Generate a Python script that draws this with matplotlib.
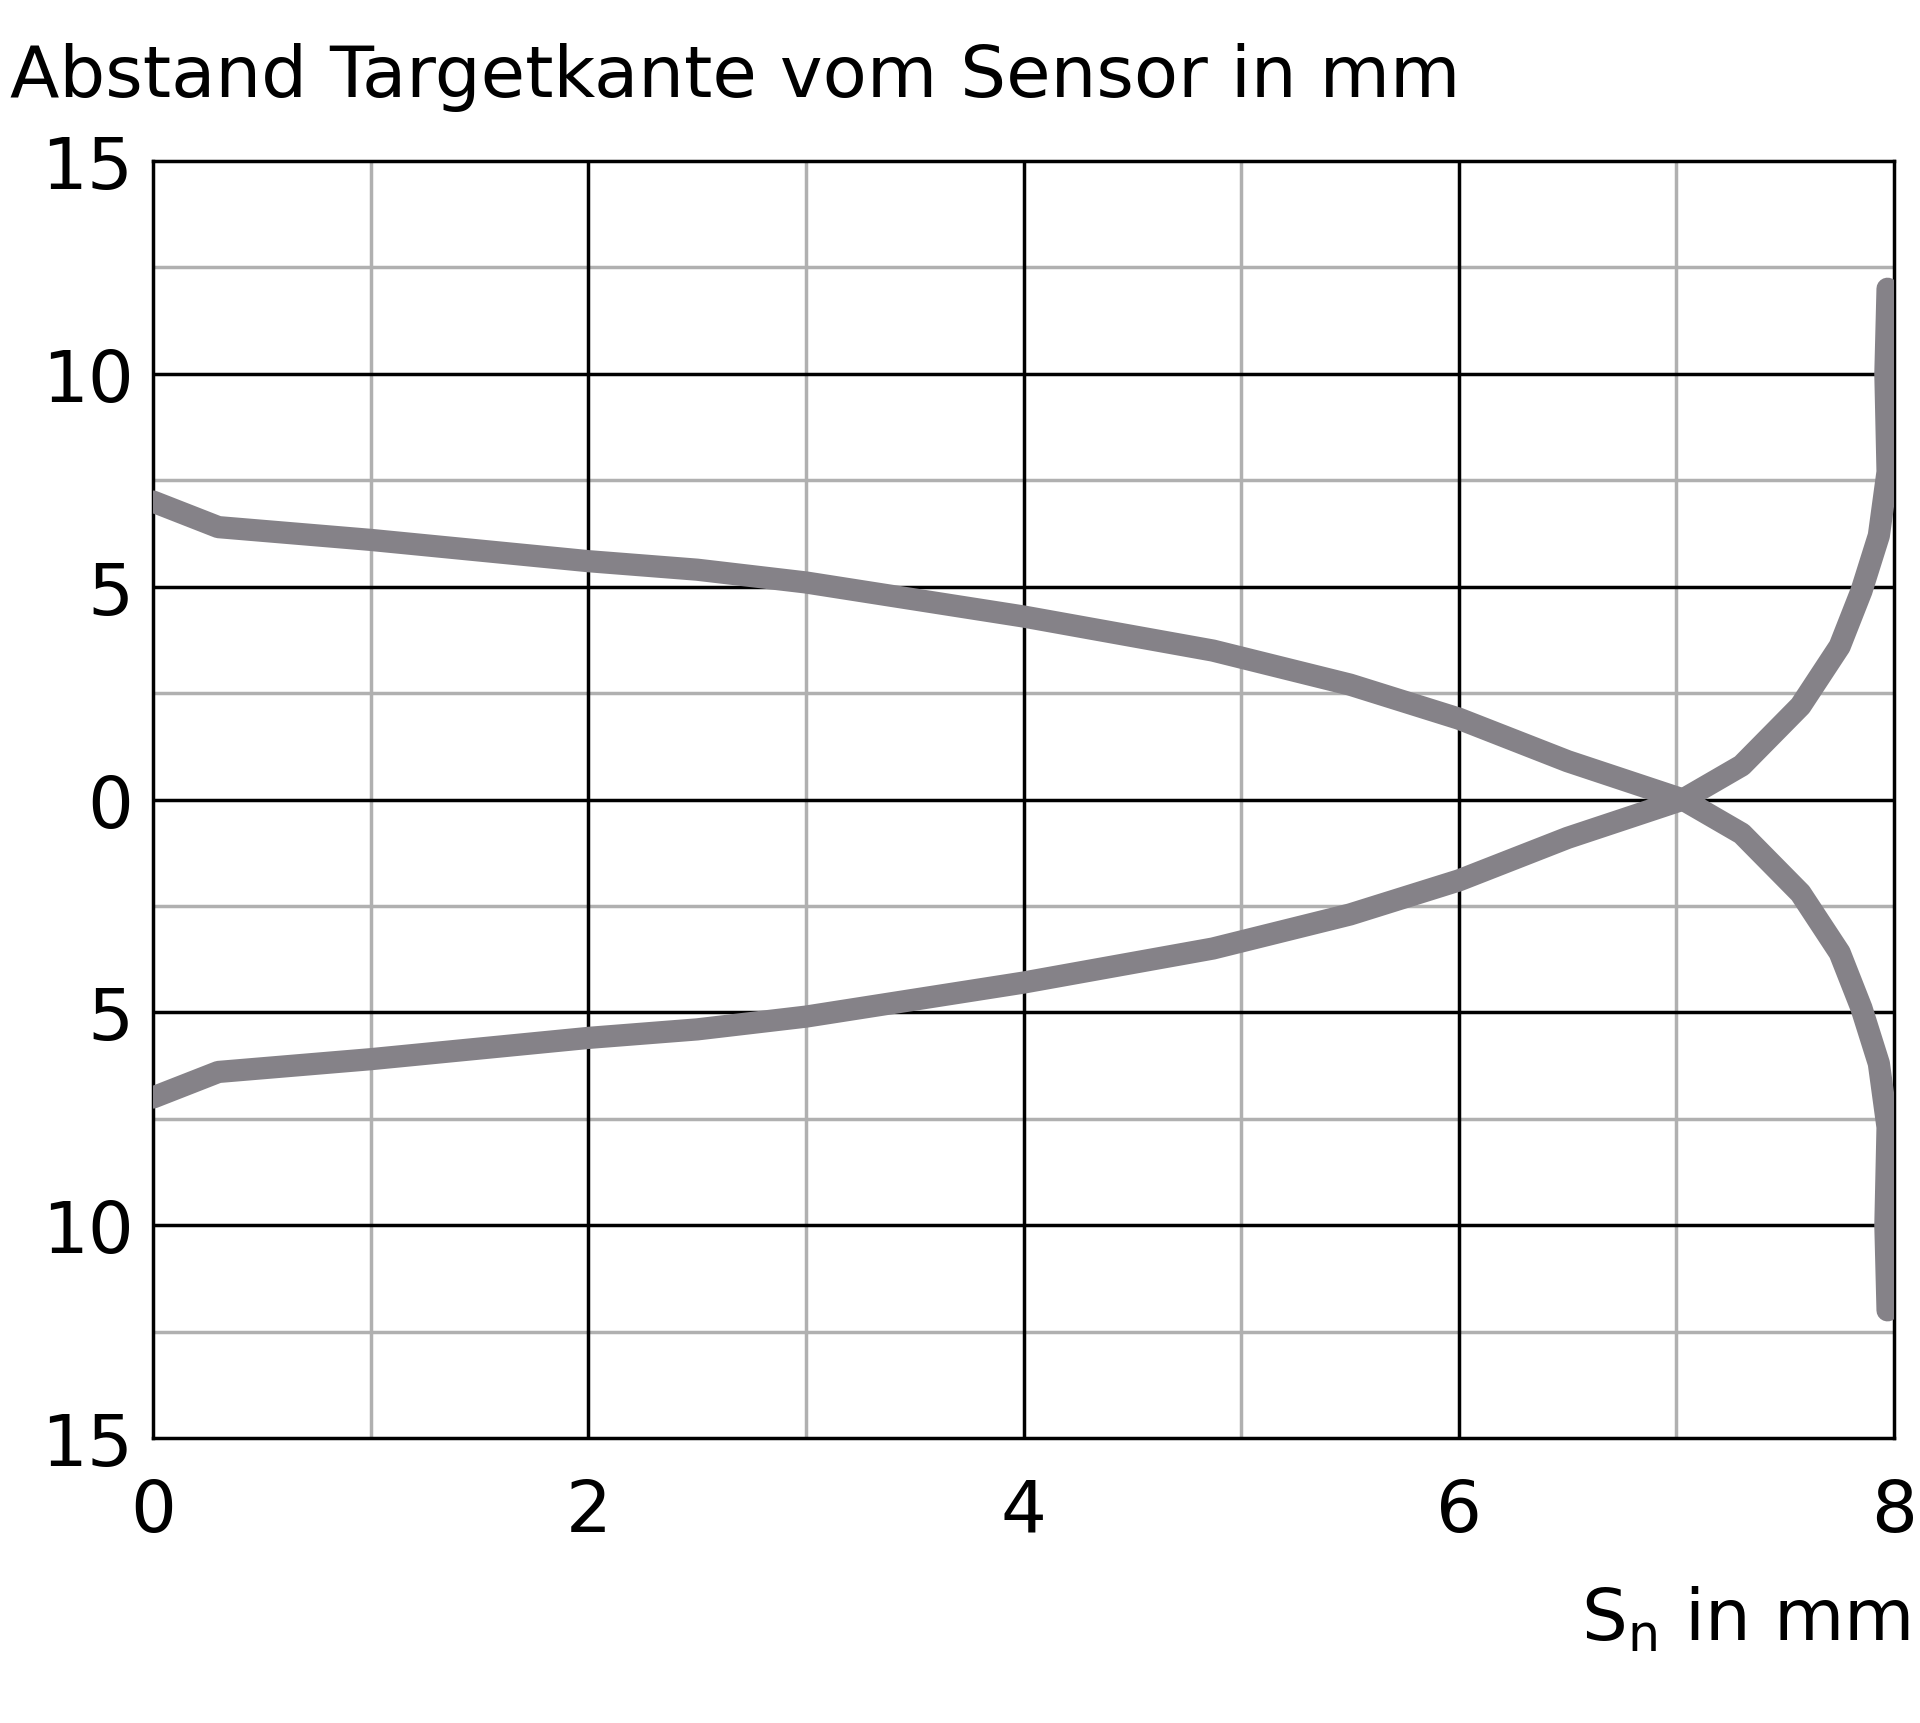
import numpy as np
import matplotlib.pyplot as plt

# upper curve (target edge approaching from one side)
upper_x = [0.0, 0.1, 0.3, 1.0, 2.0, 2.5, 3.0, 4.0, 4.87, 5.5, 6.0, 6.5, 7.03, 7.3, 7.57, 7.75, 7.85, 7.93, 7.97, 7.96, 7.97]
upper_y = [7.0, 6.8, 6.4, 6.1, 5.6, 5.4, 5.1, 4.3, 3.5, 2.7, 1.9, 0.9, 0.0, -0.8, -2.2, -3.6, -4.9, -6.2, -7.7, -10.0, -12.0]
lower_x = upper_x
lower_y = [-v for v in upper_y]

yticks = [-15, -10, -5, 0, 5, 10, 15]
ytick_labels = ['15', '10', '5', '0', '5', '10', '15']
xticks = [0, 2, 4, 6, 8]

fig = plt.figure(figsize=(19.2, 17.24), dpi=100)
ax = fig.add_axes([0.0797, 0.1653, 0.9068, 0.7407])
ax.set_xlim(0, 8)
ax.set_ylim(-15, 15)

for x in np.arange(1, 8, 2):
    ax.axvline(x, color='#b0b0b0', lw=2.5, zorder=1)
for y in np.arange(-12.5, 15, 5):
    ax.axhline(y, color='#b0b0b0', lw=2.5, zorder=1)
for x in [2, 4, 6]:
    ax.axvline(x, color='black', lw=2.5, zorder=2)
for y in [-10, -5, 0, 5, 10]:
    ax.axhline(y, color='black', lw=2.5, zorder=2)

col = '#858288'
ax.plot(upper_x, upper_y, color=col, lw=16, solid_capstyle='round', zorder=3)
ax.plot(lower_x, lower_y, color=col, lw=16, solid_capstyle='round', zorder=3)

for s in ax.spines.values():
    s.set_linewidth(2.5)
ax.set_xticks(xticks)
ax.set_xticklabels([str(v) for v in xticks])
ax.set_yticks(yticks)
ax.set_yticklabels(ytick_labels)
ax.tick_params(length=0, labelsize=52, pad=28)
ax.tick_params(axis='y', pad=14)

fig.text(0.005, 0.975, 'Abstand Targetkante vom Sensor in mm', fontsize=52, va='top', ha='left')
fig.text(0.995, 0.04, r'S$_\mathregular{n}$ in mm', fontsize=52, va='bottom', ha='right')

fig.savefig('out.png', dpi=100)
